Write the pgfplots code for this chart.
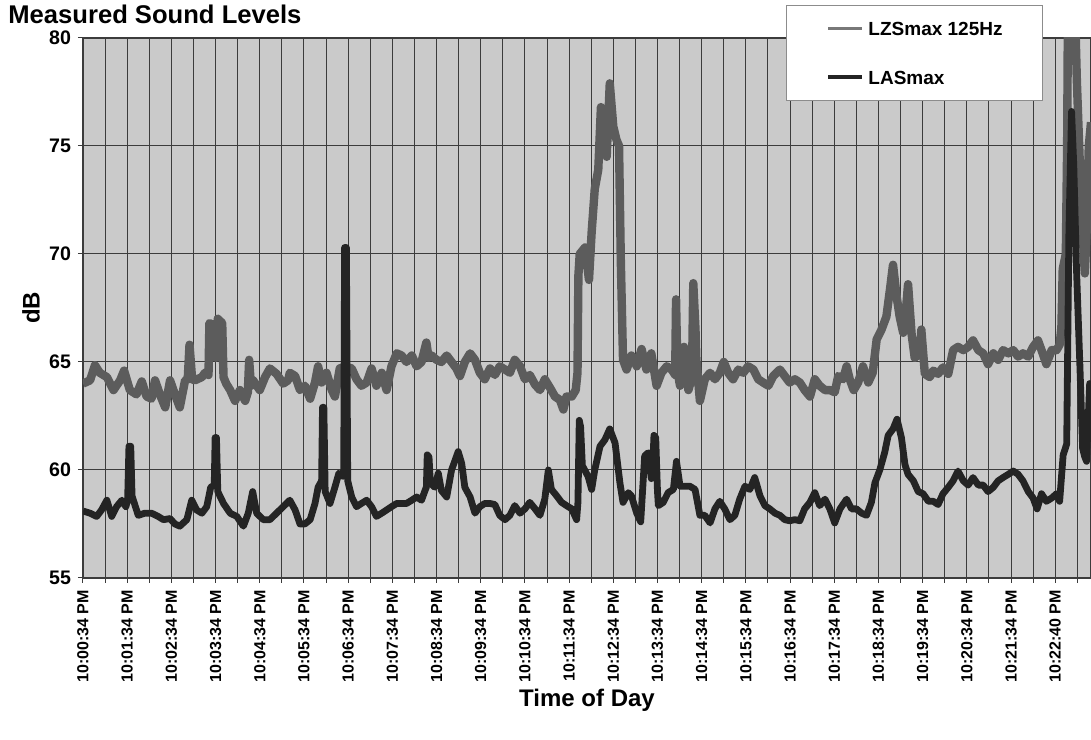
\documentclass[border=0pt]{standalone}
\usepackage{fontspec}
\setmainfont{Liberation Sans}
\usepackage{pgfplots}
\pgfplotsset{compat=1.18}
\usetikzlibrary{calc}
\definecolor{bgc}{RGB}{202,202,202}
\definecolor{lzc}{RGB}{92,92,92}
\definecolor{lac}{RGB}{36,36,36}
\definecolor{legz}{RGB}{120,120,120}
\definecolor{gridc}{RGB}{60,60,60}
\begin{document}
\begin{tikzpicture}
\begin{axis}[
  name=ax,
  scale only axis,
  width=504pt, height=270pt,
  xmin=0, xmax=22.81,
  ymin=55, ymax=80,
  ytick={55,60,...,80},
  xtick={0,...,22},
  minor xtick={0.5,1.5,...,22.5},
  xticklabels={10:00:34 PM,10:01:34 PM,10:02:34 PM,10:03:34 PM,10:04:34 PM,10:05:34 PM,10:06:34 PM,10:07:34 PM,10:08:34 PM,10:09:34 PM,10:10:34 PM,10:11:34 PM,10:12:34 PM,10:13:34 PM,10:14:34 PM,10:15:34 PM,10:16:34 PM,10:17:34 PM,10:18:34 PM,10:19:34 PM,10:20:34 PM,10:21:34 PM,10:22:40 PM},
  xmajorgrids, xminorgrids, ymajorgrids,
  grid style={gridc, line width=0.5pt},
  minor grid style={gridc, line width=0.5pt},
  axis line style={gridc, line width=0.6pt},
  axis background/.style={fill=bgc},
  tick align=outside,
  tick pos=left,
  major tick length=2.5pt, minor tick length=2.5pt,
  tick style={gridc, line width=0.5pt},
  /pgf/number format/assume math mode=true,
  yticklabel style={font=\fontsize{9.8}{10}\selectfont\bfseries},
  xticklabel style={font=\fontsize{8}{9}\selectfont\bfseries, rotate=90, anchor=east},
  title={Measured Sound Levels},
  title style={at={(axis description cs:-0.0744,1.0043)}, anchor=base west, inner sep=0pt, font=\fontsize{12.8}{14}\selectfont\bfseries},
  xlabel={Time of Day},
  xlabel style={at={(axis description cs:0.5,-0.2259)}, anchor=center, font=\fontsize{12}{14}\selectfont\bfseries},
  ylabel={dB},
  ylabel style={at={(axis description cs:-0.0516,0.5)}, anchor=center, font=\fontsize{12}{14}\selectfont\bfseries},
  legend style={at={(axis description cs:0.6974,1.0611)}, anchor=north west, draw=black!45, fill=white, line width=0.5pt,
    inner xsep=20pt, inner ysep=8pt, row sep=17.3pt, column sep=2.3pt,
    font=\fontsize{9.5}{10}\selectfont\bfseries, cells={anchor=west},
    nodes={inner sep=0pt, text height=7pt, text depth=0pt}},
  legend image code/.code={\path[draw=none, fill=none] (0pt,-3.5pt) rectangle (17pt,3.5pt); \draw[#1, line width=1.7pt] (0pt,0pt) -- (17pt,0pt);},
]
\addplot[lzc, line width=4.2pt, line join=round, mark=none, forget plot] coordinates {
(0.00,64.0) (0.16,64.15) (0.27,64.85) (0.38,64.5) (0.54,64.3) (0.69,63.7) (0.84,64.15) (0.93,64.6)
(1.06,63.7) (1.21,63.5) (1.33,64.1) (1.44,63.4) (1.55,63.3) (1.63,64.15) (1.74,63.5) (1.86,62.9)
(1.97,64.15) (2.08,63.5) (2.19,62.9) (2.31,64.15) (2.37,64.2) (2.41,65.8) (2.47,64.2) (2.53,64.15)
(2.69,64.3) (2.76,64.5) (2.84,64.4) (2.86,66.8) (2.97,66.7) (3.01,65.2) (3.05,67.0) (3.15,66.8) (3.18,64.3)
(3.24,64.0) (3.33,63.7) (3.44,63.2) (3.55,63.7) (3.67,63.2) (3.73,63.6) (3.76,65.1) (3.80,63.9)
(3.85,64.15) (4.00,63.7) (4.12,64.3) (4.23,64.7) (4.38,64.45) (4.53,64.0) (4.64,64.15)
(4.68,64.5) (4.80,64.35) (4.91,63.7) (5.02,63.9) (5.14,63.3) (5.25,64.05) (5.32,64.8) (5.40,64.05)
(5.51,64.5) (5.63,63.7) (5.70,63.4) (5.81,64.7) (5.93,64.8) (6.08,64.7) (6.19,64.2) (6.30,63.9)
(6.42,64.05) (6.53,64.7) (6.64,63.9) (6.76,64.5) (6.87,63.7) (6.98,64.8) (7.10,65.4) (7.21,65.3)
(7.32,65.0) (7.44,65.3) (7.55,64.8) (7.66,65.0) (7.77,65.9) (7.82,65.2) (7.89,65.3) (8.00,65.1)
(8.11,65.0) (8.23,65.3) (8.34,65.0) (8.45,64.7) (8.53,64.35) (8.64,65.0) (8.76,65.4) (8.87,65.1)
(8.98,64.5) (9.09,64.2) (9.21,64.7) (9.32,64.4) (9.43,64.8) (9.55,64.65) (9.66,64.5) (9.77,65.1)
(9.89,64.8) (10.00,64.2) (10.11,64.4) (10.23,63.95) (10.34,63.7) (10.45,64.2) (10.57,63.8) (10.68,63.4)
(10.79,63.25) (10.87,62.8) (10.94,63.4) (11.06,63.4) (11.15,63.7) (11.19,64.5) (11.21,69.0) (11.24,70.0)
(11.36,70.3) (11.45,68.8) (11.51,71.0) (11.58,73.0) (11.66,73.9) (11.72,76.8) (11.77,75.4) (11.85,74.5)
(11.92,77.9) (12.00,75.9) (12.07,75.3) (12.13,75.0) (12.17,69.7) (12.22,65.1) (12.30,64.65) (12.41,65.3)
(12.53,64.8) (12.64,65.6) (12.75,64.65) (12.86,65.4) (12.98,63.9) (13.09,64.5) (13.21,64.8) (13.32,64.65)
(13.40,64.4) (13.42,67.9) (13.45,64.6) (13.51,63.9) (13.60,65.7) (13.70,63.7) (13.78,64.3) (13.81,68.65)
(13.86,66.5) (13.88,65.1) (13.96,63.2) (14.07,64.2) (14.19,64.5) (14.30,64.2) (14.41,64.5) (14.50,65.0)
(14.60,64.5) (14.71,64.2) (14.83,64.65) (14.94,64.5) (15.05,64.8) (15.17,64.65) (15.28,64.2) (15.39,64.05)
(15.51,63.9) (15.62,64.35) (15.77,64.65) (15.88,64.35) (15.99,64.05) (16.11,64.2) (16.22,64.05) (16.33,63.7)
(16.45,63.4) (16.56,64.2) (16.67,63.9) (16.79,63.7) (16.90,63.7) (17.01,63.6) (17.09,64.35) (17.20,64.2)
(17.28,64.8) (17.35,64.2) (17.44,63.7) (17.54,64.05) (17.65,64.8) (17.77,64.05) (17.87,64.5) (17.96,66.05)
(18.07,66.5) (18.18,67.1) (18.26,68.35) (18.33,69.5) (18.41,68.05) (18.48,67.1) (18.56,66.35) (18.63,67.6)
(18.67,68.6) (18.75,66.3) (18.82,65.2) (18.94,65.4) (18.97,66.5) (19.05,64.45) (19.16,64.3) (19.24,64.6)
(19.35,64.45) (19.46,64.75) (19.58,64.45) (19.69,65.55) (19.80,65.7) (19.92,65.55) (20.03,65.7) (20.14,66.0)
(20.26,65.55) (20.37,65.4) (20.48,64.9) (20.60,65.4) (20.71,65.1) (20.82,65.55) (20.94,65.4) (21.05,65.55)
(21.16,65.25) (21.27,65.4) (21.39,65.25) (21.50,65.7) (21.61,66.0) (21.69,65.55) (21.80,64.9) (21.92,65.55)
(22.03,65.55) (22.10,65.8) (22.14,66.6) (22.17,69.3) (22.24,70.0) (22.27,75.0) (22.29,82.0) (22.44,82.0)
(22.49,78.0) (22.56,74.0) (22.62,71.0) (22.67,69.1) (22.71,71.0) (22.76,75.0) (22.81,76.1)
};
\addlegendimage{legz}
\addlegendentry{LZSmax 125Hz}
\addplot[lac, line width=3.4pt, line join=round, mark=none] coordinates {
(0.00,58.1) (0.16,58.0) (0.31,57.85) (0.42,58.15) (0.54,58.6) (0.65,57.85) (0.76,58.3) (0.88,58.6)
(0.97,58.3) (1.01,58.6) (1.04,61.1) (1.08,61.1) (1.11,58.8) (1.14,58.6) (1.25,57.9) (1.40,58.0)
(1.55,58.0) (1.70,57.85) (1.82,57.7) (1.97,57.75) (2.08,57.5) (2.19,57.4) (2.35,57.7) (2.46,58.6)
(2.57,58.15) (2.69,58.0) (2.80,58.3) (2.89,59.2) (2.97,59.3) (2.99,61.5) (3.02,61.5) (3.05,59.0)
(3.18,58.45) (3.33,58.0) (3.48,57.85) (3.63,57.4) (3.74,58.0) (3.84,59.0) (3.93,58.0) (4.08,57.7)
(4.23,57.7) (4.38,58.0) (4.53,58.3) (4.68,58.6) (4.80,58.15) (4.91,57.5) (5.02,57.5) (5.14,57.7)
(5.25,58.45) (5.32,59.2) (5.40,59.5) (5.42,62.9) (5.45,62.9) (5.48,59.0) (5.59,58.45) (5.70,59.2)
(5.79,59.85) (5.87,59.7) (5.90,60.0) (5.92,70.3) (5.96,70.3) (5.99,59.5) (6.08,58.75) (6.19,58.3)
(6.30,58.45) (6.42,58.6) (6.53,58.3) (6.64,57.85) (6.76,58.0) (6.87,58.15) (6.98,58.3) (7.10,58.45)
(7.21,58.45) (7.32,58.45) (7.44,58.6) (7.55,58.75) (7.66,58.6) (7.74,59.05) (7.77,59.2) (7.79,60.7)
(7.83,60.6) (7.86,59.4) (7.96,59.2) (8.04,59.85) (8.11,59.05) (8.23,58.75) (8.34,60.0) (8.42,60.45)
(8.49,60.85) (8.57,60.3) (8.64,59.2) (8.76,58.75) (8.87,58.0) (8.98,58.3) (9.09,58.45) (9.21,58.45)
(9.32,58.4) (9.43,57.9) (9.55,57.7) (9.66,57.9) (9.77,58.35) (9.89,58.0) (10.00,58.2) (10.11,58.5)
(10.23,58.2) (10.34,57.9) (10.45,58.65) (10.53,60.0) (10.60,59.1) (10.72,58.8) (10.83,58.5) (10.94,58.35)
(11.06,58.2) (11.17,57.7) (11.20,58.5) (11.23,62.3) (11.26,62.0) (11.30,60.2) (11.43,59.7) (11.51,59.1)
(11.58,60.0) (11.70,61.1) (11.81,61.4) (11.92,61.9) (12.04,61.25) (12.15,59.4) (12.22,58.5) (12.34,58.95)
(12.41,58.8) (12.53,58.0) (12.62,57.6) (12.71,60.65) (12.79,60.8) (12.86,59.6) (12.89,60.0) (12.92,61.6)
(12.96,61.5) (13.00,59.0) (13.02,58.35) (13.13,58.5) (13.24,58.95) (13.36,59.1) (13.43,60.4) (13.51,59.25)
(13.62,59.25) (13.73,59.25) (13.85,59.1) (13.96,57.9) (14.07,57.9) (14.19,57.55) (14.30,58.2) (14.41,58.55)
(14.52,58.2) (14.64,57.7) (14.75,57.9) (14.86,58.65) (14.98,59.25) (15.09,59.1) (15.20,59.65) (15.32,58.8)
(15.43,58.35) (15.54,58.2) (15.66,58.0) (15.77,57.9) (15.88,57.7) (15.99,57.65) (16.11,57.7) (16.22,57.65)
(16.33,58.2) (16.45,58.5) (16.56,58.95) (16.67,58.35) (16.79,58.65) (16.90,58.2) (17.01,57.55) (17.13,58.2)
(17.28,58.65) (17.39,58.2) (17.50,58.2) (17.62,58.0) (17.73,57.9) (17.84,58.5) (17.92,59.4) (18.03,60.0)
(18.14,60.8) (18.22,61.6) (18.33,61.9) (18.42,62.35) (18.52,61.5) (18.60,60.25) (18.67,59.8) (18.79,59.5)
(18.90,59.0) (19.01,58.9) (19.13,58.55) (19.24,58.55) (19.35,58.4) (19.46,58.9) (19.58,59.2) (19.69,59.5)
(19.80,59.95) (19.92,59.5) (20.03,59.3) (20.14,59.65) (20.26,59.3) (20.37,59.3) (20.48,59.0) (20.60,59.2)
(20.71,59.5) (20.82,59.65) (20.94,59.8) (21.05,59.95) (21.16,59.8) (21.27,59.5) (21.39,59.0) (21.50,58.7)
(21.59,58.2) (21.69,58.9) (21.80,58.55) (21.92,58.7) (22.03,58.9) (22.10,58.55) (22.18,60.7) (22.26,61.2)
(22.31,71.0) (22.37,76.6) (22.42,74.1) (22.48,69.4) (22.56,64.75) (22.62,61.0) (22.67,60.6) (22.71,60.4)
(22.75,62.5) (22.78,64.0) (22.81,63.8)
};
\addlegendentry{LASmax}
\end{axis}
\pgfresetboundingbox
\path ($(ax.south west)+(-41.5pt,-81pt)$) rectangle ($(ax.north east)+(0pt,19pt)$);
\end{tikzpicture}
\end{document}
